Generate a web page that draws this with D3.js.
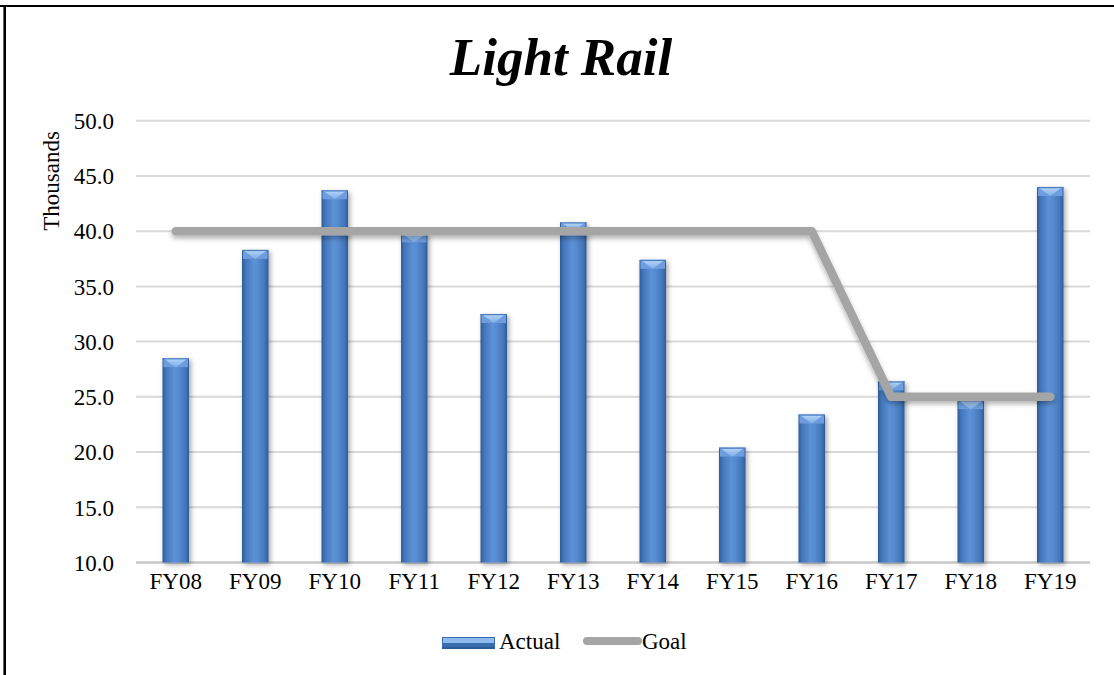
<!DOCTYPE html>
<html>
<head>
<meta charset="utf-8">
<script src="https://cdn.jsdelivr.net/npm/d3@7/dist/d3.min.js"></script>
<style>
  html, body { margin: 0; padding: 0; background: #fff; }
  svg { display: block; }
  text { font-family: "Liberation Serif", "Times New Roman", serif; fill: #000; }
</style>
</head>
<body>
<svg id="chart" width="1114" height="675"></svg>
<script>
// Light rail ridership (thousands) by fiscal year
const categories = ["FY08", "FY09", "FY10", "FY11", "FY12", "FY13", "FY14", "FY15", "FY16", "FY17", "FY18", "FY19"];
const actual = [28.5, 38.3, 43.7, 39.8, 32.5, 40.8, 37.4, 20.4, 23.4, 26.4, 24.7, 44.0];
const goal = [40, 40, 40, 40, 40, 40, 40, 40, 40, 25, 25, 25];
const yTicks = [10, 15, 20, 25, 30, 35, 40, 45, 50];
const legendItems = ["Actual", "Goal"];

const svg = d3.select("#chart");
const W = 1114, H = 675;
const plot = { left: 136, right: 1090, top: 120.7, bottom: 562.5 };

const x = d3.scaleBand().domain(categories).range([plot.left, plot.right]).padding(0);
const y = d3.scaleLinear().domain([10, 50]).range([plot.bottom, plot.top]);
const barW = x.bandwidth() / 3;

// Definitions: bar gradient, bevel, shadows
const defs = svg.append("defs");
const g1 = defs.append("linearGradient").attr("id", "barGrad").attr("x1", "0").attr("x2", "1").attr("y1", "0").attr("y2", "0");
[["0%", "#2c5a96"], ["12%", "#4274b8"], ["45%", "#5c91d7"], ["60%", "#588bd1"], ["88%", "#4274b8"], ["100%", "#2c5a96"]]
  .forEach(([o, c]) => g1.append("stop").attr("offset", o).attr("stop-color", c));
const g2 = defs.append("linearGradient").attr("id", "capGrad").attr("x1", "0").attr("x2", "0").attr("y1", "0").attr("y2", "1");
[["0%", "#b7d6f7"], ["100%", "#7eaee8"]].forEach(([o, c]) => g2.append("stop").attr("offset", o).attr("stop-color", c));

const shadow = defs.append("filter").attr("id", "shadow").attr("x", "-50%").attr("y", "-20%").attr("width", "200%").attr("height", "140%");
shadow.append("feDropShadow").attr("dx", 2).attr("dy", 2).attr("stdDeviation", 2.5).attr("flood-color", "#000").attr("flood-opacity", 0.35);
const lshadow = defs.append("filter").attr("id", "lshadow").attr("x", "-10%").attr("y", "-30%").attr("width", "120%").attr("height", "160%");
lshadow.append("feDropShadow").attr("dx", 0).attr("dy", 3).attr("stdDeviation", 2.5).attr("flood-color", "#000").attr("flood-opacity", 0.3);

// Frame
svg.append("line").attr("x1", 0).attr("x2", W).attr("y1", 6).attr("y2", 6).attr("stroke", "#000").attr("stroke-width", 2.2);
svg.append("line").attr("x1", 4.7).attr("x2", 4.7).attr("y1", 5).attr("y2", H).attr("stroke", "#000").attr("stroke-width", 2.6);

// Title
svg.append("text").attr("x", 561).attr("y", 75).attr("text-anchor", "middle")
  .style("font-size", "53px").style("font-weight", "bold").style("font-style", "italic")
  .text("Light Rail");

// Gridlines
svg.append("g").selectAll("line").data(yTicks).join("line")
  .attr("x1", plot.left).attr("x2", plot.right)
  .attr("y1", d => y(d)).attr("y2", d => y(d))
  .attr("stroke", d => d === 10 ? "#c8c8c8" : "#d9d9d9")
  .attr("stroke-width", d => d === 10 ? 2.5 : 2);

// Y axis labels
const yAxis = d3.axisLeft(y).tickValues(yTicks).tickFormat(d3.format(".1f")).tickSize(0).tickPadding(0);
const ya = svg.append("g").attr("transform", `translate(114,0)`).call(yAxis);
ya.select(".domain").remove();
ya.selectAll("text").style("font-size", "23px").attr("font-family", null).attr("dy", "0.34em");

svg.append("text").attr("transform", "translate(59,181) rotate(-90)").attr("text-anchor", "middle")
  .style("font-size", "23px").text("Thousands");

// X axis labels
const xAxis = d3.axisBottom(x).tickSize(0).tickPadding(0);
const xa = svg.append("g").attr("transform", `translate(0,571)`).call(xAxis);
xa.select(".domain").remove();
xa.selectAll("text").style("font-size", "23px").attr("font-family", null).attr("dy", "0.78em");

// Bars
const bars = svg.append("g").selectAll("g").data(categories.map((c, i) => ({ c, v: actual[i] }))).join("g")
  .attr("transform", d => `translate(${x(d.c) + x.bandwidth() / 2 - barW / 2},0)`);
bars.append("rect").attr("x", 0).attr("width", barW)
  .attr("y", d => y(d.v)).attr("height", d => y(10) - y(d.v))
  .attr("fill", "url(#barGrad)").attr("filter", "url(#shadow)");
// bevelled top
bars.append("rect").attr("x", 1).attr("width", barW - 2)
  .attr("y", d => y(d.v)).attr("height", 9)
  .attr("fill", "#6d9ddf");
bars.append("path")
  .attr("d", d => {
    const t = y(d.v);
    return `M1,${t} L${barW - 1},${t} L${barW - 5},${t + 3} L${barW / 2},${t + 9} L5,${t + 3} Z`;
  })
  .attr("fill", "url(#capGrad)");
bars.append("rect").attr("x", 0).attr("width", barW)
  .attr("y", d => y(d.v)).attr("height", 1.2).attr("fill", "#4a7cc0");

// Goal line
const line = d3.line().x((d, i) => x(categories[i]) + x.bandwidth() / 2).y(d => y(d));
svg.append("path").datum(goal).attr("d", line)
  .attr("fill", "none").attr("stroke", "#a5a5a5").attr("stroke-width", 8.5)
  .attr("stroke-linecap", "round").attr("stroke-linejoin", "round")
  .attr("filter", "url(#lshadow)");

// Legend
const lg = svg.append("g");
const sw = lg.append("g").attr("transform", "translate(442,637)");
sw.append("rect").attr("width", 53).attr("height", 12).attr("fill", "#3b6cae");
sw.append("rect").attr("x", 1).attr("y", 1).attr("width", 51).attr("height", 5).attr("fill", "#8ebbee");
sw.append("rect").attr("x", 0).attr("y", 10).attr("width", 53).attr("height", 2).attr("fill", "#2c5a96");
lg.append("text").attr("x", 499).attr("y", 649).style("font-size", "23px").text(legendItems[0]);
lg.append("line").attr("x1", 587).attr("x2", 638).attr("y1", 641).attr("y2", 641)
  .attr("stroke", "#a5a5a5").attr("stroke-width", 8).attr("stroke-linecap", "round");
lg.append("text").attr("x", 642).attr("y", 649).style("font-size", "23px").text(legendItems[1]);
</script>
</body>
</html>
